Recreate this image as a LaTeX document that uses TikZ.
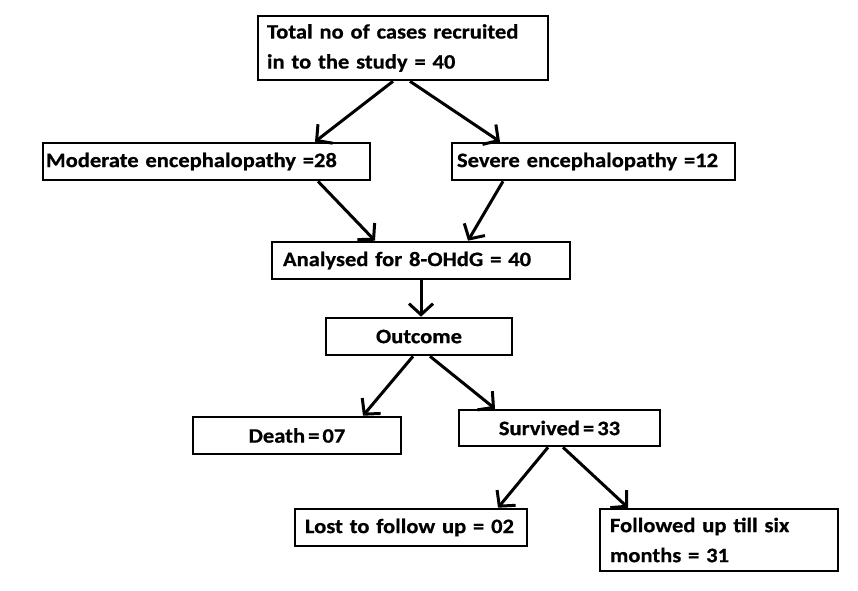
\documentclass[tikz,border=0pt]{standalone}
\usepackage{fontspec}
\setmainfont{Carlito}[FakeStretch=1.1, WordSpace=0.6, BoldFeatures={FakeBold=0.6}]
\usetikzlibrary{arrows.meta}
\tikzset{
  box/.style={draw=black, line width=2.6pt, fill=white, inner sep=0pt, font=\fontsize{20.5}{30}\selectfont\bfseries},
  arr/.style={line width=3pt, -{Straight Barb[length=11pt,width=24pt,line width=3pt]}}
}
\begin{document}
\begin{tikzpicture}[x=1pt,y=-1pt]
\useasboundingbox (0,0) rectangle (858,590);
\node[box, minimum width=290, minimum height=64, text width=272, align=left] (top) at (403,48) {\mbox{Total no of cases recruited}\\\mbox{in to the study = 40}};
\node[box, minimum width=327, minimum height=37, text width=321, align=left] (mod) at (206.5,161.5) {\mbox{Moderate encephalopathy =28}};
\node[box, minimum width=283, minimum height=37, text width=273, align=left] (sev) at (593.5,161.5) {\mbox{Severe encephalopathy =12}};
\node[box, minimum width=298, minimum height=37, text width=276, align=left] (ana) at (421,260.5) {\mbox{Analysed for 8-OHdG = 40}};
\node[box, minimum width=186, minimum height=37, align=center] (out) at (419,336.5) {Outcome};
\node[box, minimum width=208, minimum height=37, align=center] (death) at (297,435.5) {Death = 07};
\node[box, minimum width=201, minimum height=36, align=center] (surv) at (559.5,428) {Survived = 33};
\node[box, minimum width=232, minimum height=37, text width=212, align=left] (lost) at (411,527.5) {\mbox{Lost to follow up = 02}};
\node[box, minimum width=238, minimum height=62, text width=218, align=left] (fol) at (719,540) {\mbox{Followed up till six}\\\mbox{months = 31}};
\draw[arr] ([xshift=-10]top.south) -- ([xshift=108.5]mod.north);
\draw[arr] ([xshift=7]top.south) -- ([xshift=-93.5]sev.north);
\draw[arr] ([xshift=111.5]mod.south) -- ([xshift=-46]ana.north);
\draw[arr] ([xshift=-90.5]sev.south) -- ([xshift=47]ana.north);
\draw[arr] (ana.south) -- (ana.south |- out.north);
\draw[arr] ([xshift=-6]out.south) -- ([xshift=66]death.north);
\draw[arr] ([xshift=11]out.south) -- ([xshift=-64.5]surv.north);
\draw[arr] ([xshift=-11.5]surv.south) -- ([xshift=87]lost.north);
\draw[arr] ([xshift=3.5]surv.south) -- ([xshift=-91]fol.north);
\end{tikzpicture}
\end{document}
